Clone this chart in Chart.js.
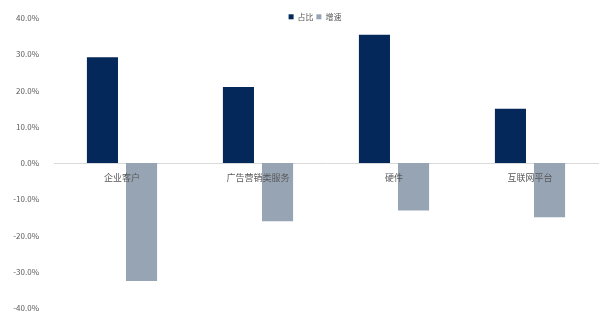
<!DOCTYPE html>
<html>
<head>
<meta charset="utf-8">
<script src="https://cdn.jsdelivr.net/npm/chart.js@4/dist/chart.umd.min.js"></script>
<style>
  html, body { margin: 0; padding: 0; background: #fff; }
  #wrap { width: 605px; height: 320px; }
</style>
</head>
<body>
<div id="wrap"><canvas id="c"></canvas></div>
<script>
/* data */
const categories = ['企业客户', '广告营销类服务', '硬件', '互联网平台'];
const shareValues = [29.2, 21.0, 35.4, 15.0];
const growthValues = [-32.5, -16.0, -13.1, -14.9];
const seriesNames = ['占比', '增速'];

const NAVY = '#05285a', GREY = '#97a4b3', TXT = '#595959';
const FONT = "'Noto Sans CJK SC', 'DejaVu Sans', sans-serif";

// legend reserves a fixed 18px, then gets nudged over the top edge of the plot
const legendNudge = {
  id: 'legendNudge',
  beforeInit(chart) {
    const fit = chart.legend.fit;
    chart.legend.fit = function () {
      fit.call(this);
      this.height = 18;
    };
  },
  afterLayout(chart) {
    const lg = chart.legend;
    lg.top += 10; lg.bottom += 10;
    lg.left += 16; lg.right += 16;
  }
};

new Chart(document.getElementById('c'), {
  type: 'bar',
  data: {
    labels: categories,
    datasets: [
      { label: seriesNames[0], data: shareValues, backgroundColor: NAVY },
      { label: seriesNames[1], data: growthValues, backgroundColor: GREY },
    ]
  },
  options: {
    responsive: true, maintainAspectRatio: false, animation: false,
    categoryPercentage: 0.575, barPercentage: 0.795,
    layout: { padding: { top: 0, bottom: 9, right: 7, left: 0 } },
    scales: {
      x: {
        position: { y: 0 },
        grid: { display: false },
        border: { display: true, color: '#d9d9d9', width: 1 },
        ticks: { z: 1, color: TXT, font: { family: FONT, size: 9 }, padding: 1, maxRotation: 0, autoSkip: false },
      },
      y: {
        min: -40, max: 40,
        grid: { display: false },
        border: { display: false },
        afterFit: s => { s.width = 54; },
        ticks: {
          stepSize: 10, color: TXT, padding: 7,
          font: { family: FONT, size: 8 },
          callback: v => v.toFixed(1) + '%',
        },
      },
    },
    plugins: {
      tooltip: { enabled: false },
      legend: {
        position: 'top', align: 'center',
        labels: { color: TXT, font: { family: FONT, size: 8 }, boxWidth: 5, boxHeight: 5, padding: 2.8 },
      },
    },
  },
  plugins: [legendNudge]
});
</script>
</body>
</html>
